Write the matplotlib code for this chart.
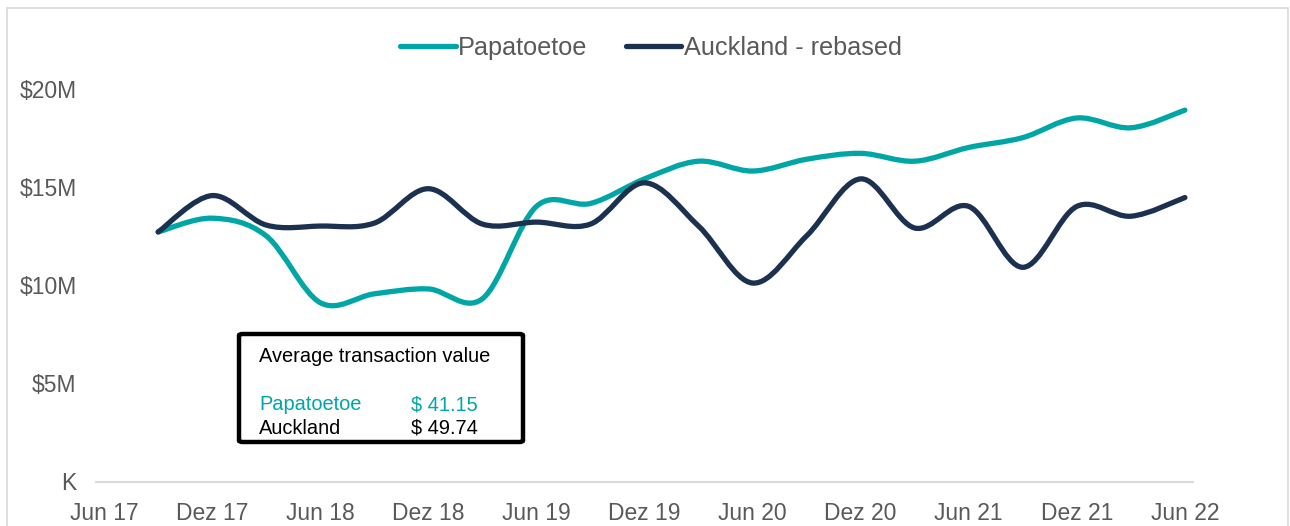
import numpy as np
import matplotlib.pyplot as plt
from matplotlib.path import Path
from matplotlib.patches import PathPatch, Rectangle, FancyBboxPatch
from matplotlib.lines import Line2D
from matplotlib import font_manager

# quarterly values, $M (Sep 17 .. Jun 22)
months = [3, 6, 9, 12, 15, 18, 21, 24, 27, 30, 33, 36, 39, 42, 45, 48, 51, 54, 57, 60]
papatoetoe = [12.7, 13.4, 12.5, 9.1, 9.55, 9.8, 9.3, 14.0, 14.15, 15.4,
              16.3, 15.8, 16.4, 16.7, 16.3, 17.0, 17.5, 18.5, 18.0, 18.9]
auckland = [12.7, 14.55, 13.05, 13.0, 13.15, 14.9, 13.1, 13.2, 13.1, 15.2,
            13.0, 10.1, 12.5, 15.4, 12.9, 14.0, 10.9, 14.0, 13.5, 14.45]

tick_months = list(range(0, 61, 6))
tick_labels = ["Jun 17", "Dez 17", "Jun 18", "Dez 18", "Jun 19", "Dez 19",
               "Jun 20", "Dez 20", "Jun 21", "Dez 21", "Jun 22"]
y_ticks = [0, 5, 10, 15, 20]
y_labels = ["K", "$5M", "$10M", "$15M", "$20M"]

avg_title = "Average transaction value"
avg_names = ["Papatoetoe", "Auckland"]
avg_values = ["$ 41.15", "$ 49.74"]

TEAL = "#00A6A6"
NAVY = "#1C3150"
GREY = "#595959"

names = {f.name for f in font_manager.fontManager.ttflist}
font = "Liberation Sans Narrow" if "Liberation Sans Narrow" in names else "Liberation Sans"
plt.rcParams["font.family"] = [font, "DejaVu Sans"]


def smooth_path(x, y):
    # Excel-style smoothed line: cubic Bezier through every point
    pts = np.column_stack([x, y]).astype(float)
    n = len(pts)
    verts = [pts[0]]
    codes = [Path.MOVETO]
    for i in range(n - 1):
        p0 = pts[i - 1] if i > 0 else pts[i]
        p1 = pts[i]
        p2 = pts[i + 1]
        p3 = pts[i + 2] if i + 2 < n else pts[i + 1]
        c1 = p1 + (p2 - p0) / 6.0
        c2 = p2 - (p3 - p1) / 6.0
        verts += [c1, c2, p2]
        codes += [Path.CURVE4] * 3
    return Path(verts, codes)


W, H = 1290, 526
fig = plt.figure(figsize=(W / 100, H / 100), dpi=100)

# outer chart border
fig.patches.append(Rectangle((7 / W, -0.05), 1281 / W, 1.05 - 8 / H, transform=fig.transFigure,
                             fill=False, edgecolor="#d9d9d9", linewidth=1.2))

ax_l, ax_r, ax_b = 96, 1193, 481.5
y_top = 21.0
px_per_m = 19.65
ax_t = ax_b - y_top * px_per_m
ax = fig.add_axes([ax_l / W, 1 - ax_b / H, (ax_r - ax_l) / W, (ax_b - ax_t) / H])
ax.set_xlim(-0.45, 60.45)
ax.set_ylim(0, y_top)

for vals, col in [(papatoetoe, TEAL), (auckland, NAVY)]:
    ax.add_patch(PathPatch(smooth_path(months, vals), fill=False, edgecolor=col,
                           linewidth=3.8, capstyle="round", joinstyle="round"))

for s in ["top", "right", "left"]:
    ax.spines[s].set_visible(False)
ax.spines["bottom"].set_color("#d9d9d9")
ax.spines["bottom"].set_linewidth(1.5)
ax.set_xticks(tick_months)
ax.set_xticklabels(tick_labels)
ax.set_yticks(y_ticks)
ax.set_yticklabels(y_labels)
ax.tick_params(length=0, labelsize=16.5, colors=GREY)
ax.tick_params(axis="x", pad=15)
ax.tick_params(axis="y", pad=14)

handles = [Line2D([], [], color=TEAL, lw=3.8, solid_capstyle="round"),
           Line2D([], [], color=NAVY, lw=3.8, solid_capstyle="round")]
leg = fig.legend(handles, ["Papatoetoe", "Auckland - rebased"], loc="center",
                 bbox_to_anchor=(651 / W, 1 - 48 / H), ncol=2, frameon=False,
                 fontsize=18.2, handlelength=2.2, handletextpad=0.1, columnspacing=1.5)
for t in leg.get_texts():
    t.set_color(GREY)

# average transaction value box
fig.patches.append(FancyBboxPatch((239 / W, 1 - 442 / H), 284 / W, 108 / H,
                                  boxstyle="round,pad=0,rounding_size=0.003",
                                  transform=fig.transFigure, facecolor="white",
                                  edgecolor="black", linewidth=3.2, zorder=5))
fig.text(259 / W, 1 - 362 / H, avg_title, fontsize=14.4, color="black", zorder=6)
for i, (nm, val) in enumerate(zip(avg_names, avg_values)):
    col = TEAL if i == 0 else "black"
    yb = 1 - (410 + 23.5 * i) / H
    fig.text(259 / W, yb, nm, fontsize=14.4, color=col, zorder=6)
    fig.text(411 / W, yb, val, fontsize=14.4, color=col, zorder=6)

fig.savefig("out.png", dpi=100)
